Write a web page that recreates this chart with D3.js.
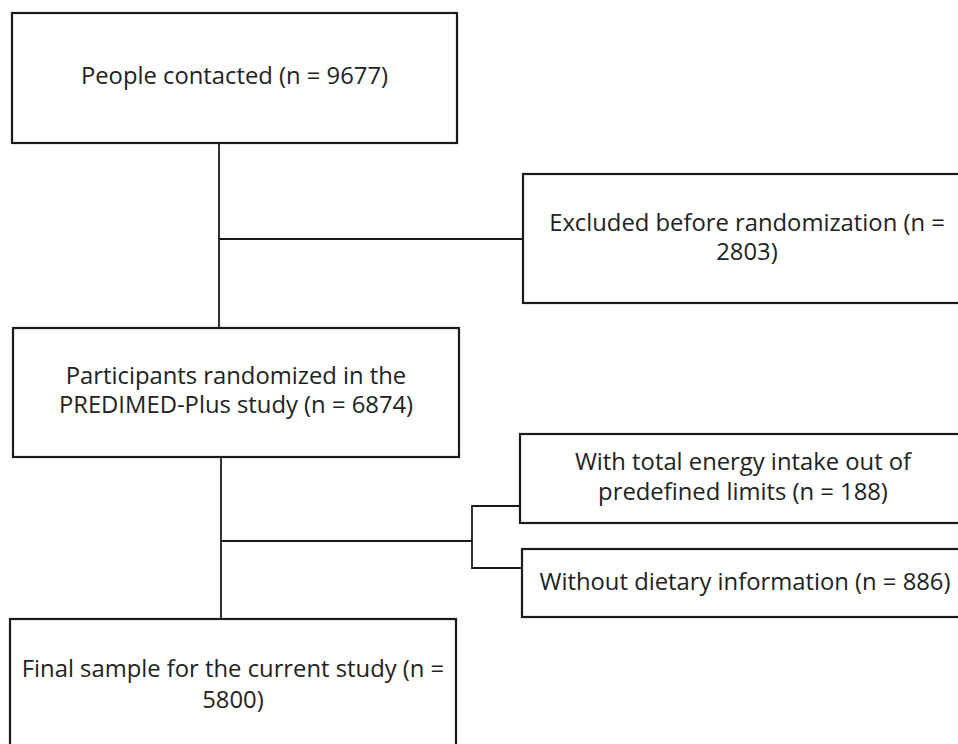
<!DOCTYPE html>
<html><head><meta charset="utf-8">
<script src="https://cdn.jsdelivr.net/npm/d3@7"></script>
<style>html,body{margin:0;padding:0;background:#fff;overflow:hidden}</style>
</head><body>
<svg id="c" width="958" height="744"></svg>
<script>
// Data
const stageLabels = ["People contacted", "Participants randomized in the PREDIMED-Plus study", "Final sample for the current study"];
const stageCounts = [9677, 6874, 5800];
const exclusionLabels = ["Excluded before randomization", "With total energy intake out of predefined limits", "Without dietary information"];
const exclusionCounts = [2803, 188, 886];

// Text lines (wrapped as in reference)
const fmt = (l, n) => `${l} (n = ${n})`;
const stageLines = [
  [fmt(stageLabels[0], stageCounts[0])],
  ["Participants randomized in the", `PREDIMED-Plus study (n = ${stageCounts[1]})`],
  [`${stageLabels[2]} (n =`, `${stageCounts[2]})`]
];
const exclLines = [
  [`${exclusionLabels[0]} (n =`, `${exclusionCounts[0]})`],
  ["With total energy intake out of", `predefined limits (n = ${exclusionCounts[1]})`],
  [fmt(exclusionLabels[2], exclusionCounts[2])]
];

// Layout
const stageBoxes = [
  {x: 12, y: 13, w: 445, h: 130, lh: 26, cy: 75.5},
  {x: 13, y: 328, w: 446, h: 129, lh: 29.5, cy: 390},
  {x: 10, y: 619, w: 446, h: 140, lh: 31, cy: 684}
];
const exclBoxes = [
  {x: 523, y: 174, w: 448, h: 129, lh: 29.5, cy: 237},
  {x: 520, y: 434, w: 446, h: 89, lh: 30, cy: 477},
  {x: 522, y: 549, w: 446, h: 68, lh: 30, cy: 582}
];

const svg = d3.select("#c");
const font = "'Open Sans', 'Noto Sans', sans-serif";
const fs = 23.8;

function drawBox(b, lines) {
  svg.append("rect").attr("x", b.x).attr("y", b.y).attr("width", b.w).attr("height", b.h)
    .attr("fill", "#fff").attr("stroke", "#1a1a1a").attr("stroke-width", 2.2);
  const cx = b.x + b.w / 2;
  const cy = b.cy !== undefined ? b.cy : b.y + b.h / 2;
  const n = lines.length;
  const t = svg.append("text").attr("font-family", font).attr("font-size", fs)
    .attr("fill", "#222").attr("text-anchor", "middle");
  lines.forEach((ln, i) => {
    t.append("tspan").attr("x", cx)
      .attr("y", cy + (i - (n - 1) / 2) * b.lh)
      .attr("dy", "0.35em").text(ln);
  });
}

const line = (pts) => svg.append("path").attr("d", d3.line()(pts))
  .attr("fill", "none").attr("stroke", "#1a1a1a").attr("stroke-width", 1.8);

// connectors
line([[219, 143], [219, 328]]);
line([[219, 239], [523, 239]]);
line([[221, 457], [221, 619]]);
line([[221, 541], [472, 541]]);
line([[520, 506], [472, 506], [472, 568], [522, 568]]);

stageBoxes.forEach((b, i) => drawBox(b, stageLines[i]));
exclBoxes.forEach((b, i) => drawBox(b, exclLines[i]));
</script>
</body></html>
